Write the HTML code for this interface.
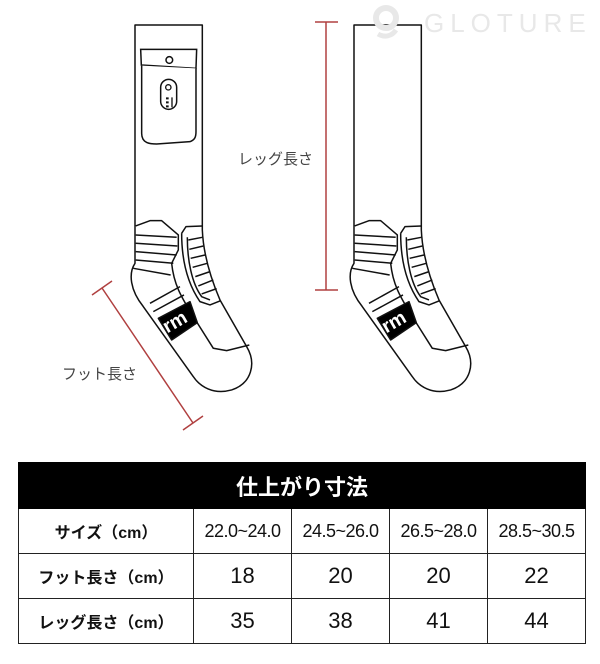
<!DOCTYPE html>
<html><head><meta charset="utf-8"><style>
html,body{margin:0;padding:0;background:#fff;}
body{width:600px;height:664px;position:relative;overflow:hidden;font-family:"Liberation Sans","Noto Sans CJK JP",sans-serif;}
.lbl{position:absolute;font-size:15px;color:#444;white-space:nowrap;}
table{position:absolute;left:18px;top:462px;width:567px;border-collapse:collapse;table-layout:fixed;}
td{border:1.5px solid #222;text-align:center;height:44px;padding:0;font-size:22px;color:#111;white-space:nowrap;overflow:hidden;}
td.h{font-weight:bold;font-size:16px;}
td.s{font-size:18px;letter-spacing:-0.5px;}
th{background:#000;color:#fff;height:43px;font-size:22px;font-weight:bold;border:1.5px solid #000;}
</style></head><body>
<svg width="600" height="664" style="position:absolute;left:0;top:0">
<defs>
<g id="sock" fill="none" stroke="#111" stroke-width="4.5" stroke-linejoin="round">
<path d="M105,75 L307,75 L307,690 C310,760 330,830 360,900 L440,1040 C470,1090 455,1150 395,1170 C340,1185 300,1160 280,1130 L130,920 C90,870 85,820 105,790 Z" fill="#fff"/>
<path d="M107,678 L150,662 L185,662 L235,705 L235,750 L215,790 C222,860 250,900 280,950 L340,1045 L380,1052 L448,1035"/>
<path d="M107,705 L230,712 M107,730 L232,738 M107,755 L230,765 M107,780 L220,790 M100,805 L212,825"/>
<path d="M245,700 L258,680 L307,678 M245,700 C245,780 262,850 300,905 L330,915 L362,902"/>
<path d="M262,712 C262,780 275,850 305,890 L330,900"/>
<path d="M265,720 L307,712 M268,748 L310,738 M272,775 L315,765 M278,802 L322,790 M286,830 L330,815 M295,858 L340,840 M305,882 L350,866"/>
<path d="M150,910 L240,860 M160,935 L252,885"/>
<path d="M175,955 L270,905 L292,968 L215,1020 Z" fill="#000"/>
</g>
</defs>
<g transform="translate(100,0) scale(0.3333)">
<use href="#sock"/>
<text x="0" y="0" transform="translate(234,982) rotate(-30)" fill="#fff" font-size="58" font-weight="bold" text-anchor="middle" font-family="Liberation Sans,sans-serif">rm</text>
<g fill="#fff" stroke="#111" stroke-width="4.5">
<path d="M122,148 L290,148 L288,205 L124,195 Z"/>
<path d="M125,197 L125,400 C125,430 150,432 170,432 L270,425 C285,420 288,410 288,395 L288,205"/>
<circle cx="208" cy="180" r="10"/>
<rect x="182" y="238" width="48" height="90" rx="24"/>
</g>
<circle cx="205" cy="262" r="8" fill="none" stroke="#111" stroke-width="4"/>
<path d="M198,292h8v6h-8zM198,304h8v6h-8zM198,316h8v6h-8zM214,292h4v30h-4z" fill="#111"/>
</g>
<g transform="translate(319,0) scale(0.3333)">
<use href="#sock"/>
<text x="0" y="0" transform="translate(234,982) rotate(-30)" fill="#fff" font-size="58" font-weight="bold" text-anchor="middle" font-family="Liberation Sans,sans-serif">rm</text>
</g>
<g stroke="#b04040" stroke-width="1.5" fill="none">
<path d="M326,22 L326,290 M315,22 L338,22 M315,290 L338,290"/>
<path d="M102,288 L193,423 M92,295 L112,281 M183,430 L203,416"/>
</g>
<text x="424" y="32" fill="#e8e8e8" font-size="26" letter-spacing="6" font-family="Liberation Sans,sans-serif">GLOTURE</text>
<circle cx="386" cy="18" r="10" fill="none" stroke="#e8e8e8" stroke-width="6"/>
<path d="M378,34 C385,38 392,36 396,30" fill="none" stroke="#e8e8e8" stroke-width="5"/>
</svg>
<div class="lbl" style="left:238px;top:148px">レッグ長さ</div>
<div class="lbl" style="left:62px;top:363px">フット長さ</div>
<table>
<colgroup><col style="width:175px"><col style="width:98px"><col style="width:98px"><col style="width:98px"><col style="width:98px"></colgroup>
<tr><th colspan="5">仕上がり寸法</th></tr>
<tr><td class="h">サイズ（cm）</td><td class="s">22.0~24.0</td><td class="s">24.5~26.0</td><td class="s">26.5~28.0</td><td class="s">28.5~30.5</td></tr>
<tr><td class="h">フット長さ（cm）</td><td>18</td><td>20</td><td>20</td><td>22</td></tr>
<tr><td class="h">レッグ長さ（cm）</td><td>35</td><td>38</td><td>41</td><td>44</td></tr>
</table>
</body></html>
